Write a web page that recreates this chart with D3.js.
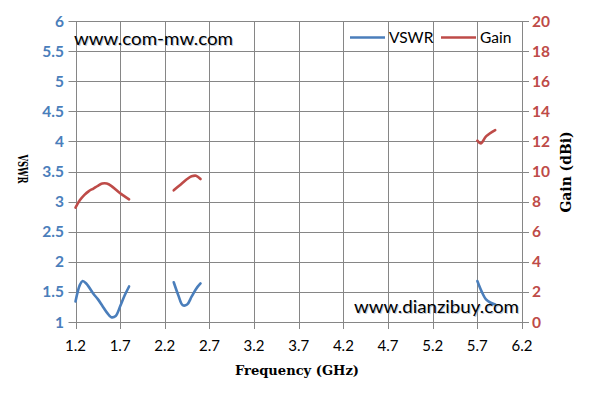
<!DOCTYPE html>
<html><head><meta charset="utf-8">
<script src="https://cdn.jsdelivr.net/npm/d3@7/dist/d3.min.js"></script>
<style>body{margin:0;background:#fff}svg{display:block}</style>
</head><body>
<svg id="c" width="595" height="404"></svg>
<script>
const xTicks = [1.2,1.7,2.2,2.7,3.2,3.7,4.2,4.7,5.2,5.7,6.2];
const vswrTicks = [1,1.5,2,2.5,3,3.5,4,4.5,5,5.5,6];
const gainTicks = [0,2,4,6,8,10,12,14,16,18,20];
const vswrSeg1 = [[1.2,1.34],[1.25,1.62],[1.28,1.68],[1.32,1.64],[1.4,1.47],[1.45,1.38],[1.5,1.27],[1.55,1.16],[1.6,1.08],[1.65,1.1],[1.7,1.26],[1.75,1.44],[1.8,1.59]];
const vswrSeg2 = [[2.3,1.66],[2.35,1.45],[2.4,1.28],[2.45,1.29],[2.5,1.42],[2.55,1.55],[2.6,1.64]];
const vswrSeg3 = [[5.7,1.68],[5.75,1.5],[5.8,1.37],[5.85,1.32],[5.9,1.29]];
const gainSeg1 = [[1.2,7.6],[1.25,8.1],[1.3,8.45],[1.35,8.7],[1.4,8.87],[1.45,9.05],[1.5,9.2],[1.55,9.2],[1.6,9.05],[1.65,8.8],[1.7,8.55],[1.75,8.35],[1.8,8.15]];
const gainSeg2 = [[2.3,8.75],[2.35,9.0],[2.4,9.25],[2.45,9.5],[2.5,9.68],[2.55,9.72],[2.6,9.5]];
const gainSeg3 = [[5.7,12.05],[5.74,11.87],[5.8,12.35],[5.9,12.75]];

const svg = d3.select("#c");
const L=75.5, R=522, T=21, B=322;
const x = d3.scaleLinear().domain([1.2,6.2]).range([L,R]);
const yV = d3.scaleLinear().domain([1,6]).range([B,T]);
const yG = d3.scaleLinear().domain([0,20]).range([B,T]);
const grid="#868686", blue="#4a7ebb", red="#be4b48";
const tickFont="Lato, 'Open Sans', sans-serif";

// gridlines
const g = svg.append("g");
g.selectAll("line.h").data(vswrTicks).join("line")
  .attr("x1",L-7).attr("x2",R+7).attr("y1",d=>Math.round(yV(d))+0.5).attr("y2",d=>Math.round(yV(d))+0.5)
  .attr("stroke",grid).attr("stroke-width",1);
g.selectAll("line.v").data(xTicks).join("line")
  .attr("x1",d=>Math.round(x(d))+0.5).attr("x2",d=>Math.round(x(d))+0.5).attr("y1",T).attr("y2",B+7)
  .attr("stroke",grid).attr("stroke-width",1);
// left labels
svg.selectAll("text.yl").data(vswrTicks).join("text")
  .attr("x",64).attr("y",d=>yV(d)).attr("dy","0.36em").attr("text-anchor","end")
  .attr("font-family",tickFont).attr("font-weight","bold").attr("font-size",15.5).attr("fill",blue)
  .text(d=>d);
svg.selectAll("text.yr").data(gainTicks).join("text")
  .attr("x",532).attr("y",d=>yG(d)).attr("dy","0.36em").attr("text-anchor","start")
  .attr("font-family",tickFont).attr("font-weight","bold").attr("font-size",15.5).attr("fill",red)
  .text(d=>d);
svg.selectAll("text.xl").data(xTicks).join("text")
  .attr("x",d=>x(d)).attr("y",351).attr("text-anchor","middle")
  .attr("font-family",tickFont).attr("font-size",15).attr("fill","#000")
  .text(d=>d.toFixed(1));

// titles
svg.append("text").attr("x",297).attr("y",375).attr("text-anchor","middle")
  .attr("font-family","'DejaVu Serif', serif").attr("font-weight","bold").attr("font-size",13)
  .attr("textLength",124).attr("lengthAdjust","spacingAndGlyphs").text("Frequency (GHz)");
svg.append("text").attr("transform","translate(18,169) rotate(90)").attr("text-anchor","middle")
  .attr("font-family","'DejaVu Serif', serif").attr("font-weight","bold").attr("font-size",13)
  .attr("textLength",29).attr("lengthAdjust","spacingAndGlyphs").text("VSWR");
svg.append("text").attr("transform","translate(571,172) rotate(-90)").attr("text-anchor","middle")
  .attr("font-family","'DejaVu Serif', serif").attr("font-weight","bold").attr("font-size",14)
  .attr("textLength",81).attr("lengthAdjust","spacingAndGlyphs").text("Gain (dBi)");

// lines
const lineV = d3.line().x(d=>x(d[0])).y(d=>yV(d[1])).curve(d3.curveCatmullRom.alpha(0.5));
const lineG = d3.line().x(d=>x(d[0])).y(d=>yG(d[1])).curve(d3.curveCatmullRom.alpha(0.5));
[vswrSeg1,vswrSeg2,vswrSeg3].forEach(s=>svg.append("path").attr("d",lineV(s)).attr("fill","none").attr("stroke",blue).attr("stroke-width",2.6).attr("stroke-linecap","round"));
[gainSeg1,gainSeg2,gainSeg3].forEach(s=>svg.append("path").attr("d",lineG(s)).attr("fill","none").attr("stroke",red).attr("stroke-width",2.6).attr("stroke-linecap","round"));

// legend
svg.append("line").attr("x1",350).attr("x2",385).attr("y1",37.5).attr("y2",37.5).attr("stroke",blue).attr("stroke-width",2.6);
svg.append("text").attr("x",389).attr("y",43).attr("font-family",tickFont).attr("font-size",15.5).text("VSWR");
svg.append("line").attr("x1",441).attr("x2",476).attr("y1",37.5).attr("y2",37.5).attr("stroke",red).attr("stroke-width",2.6);
svg.append("text").attr("x",480).attr("y",43).attr("font-family",tickFont).attr("font-size",15.5).text("Gain");

// watermarks
function wm(t,xx,yy,len){
  svg.append("text").attr("x",xx+1).attr("y",yy+1).attr("font-family",tickFont).attr("font-size",18)
    .attr("fill","#9aa9c0").attr("opacity",0.6).attr("textLength",len).attr("lengthAdjust","spacingAndGlyphs").text(t);
  svg.append("text").attr("x",xx).attr("y",yy).attr("font-family",tickFont).attr("font-size",18)
    .attr("fill","#000").attr("textLength",len).attr("lengthAdjust","spacingAndGlyphs").text(t);
}
wm("www.com-mw.com",74,45,159);
wm("www.dianzibuy.com",354,313,165);
</script>
</body></html>
